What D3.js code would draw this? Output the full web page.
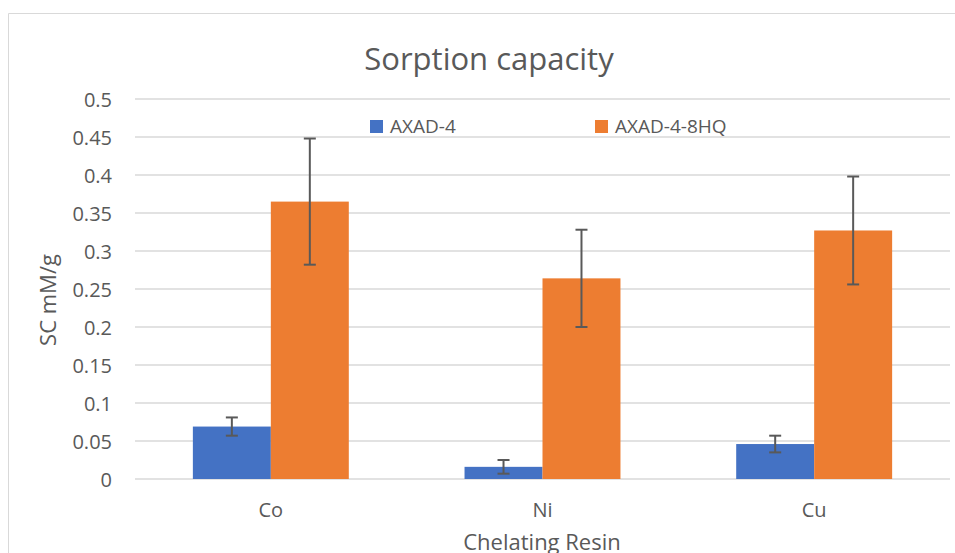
<!DOCTYPE html>
<html><head><meta charset="utf-8">
<script src="https://cdn.jsdelivr.net/npm/d3@7"></script>
<style>body{margin:0;background:#fff}svg{display:block}text{font-family:"Open Sans",sans-serif;fill:#595959}</style>
</head><body><svg id="c" width="955" height="553"></svg>
<script>
const categories = ["Co", "Ni", "Cu"];
const seriesNames = ["AXAD-4", "AXAD-4-8HQ"];
const axad4 = [0.069, 0.016, 0.046];
const axad4Err = [0.012, 0.009, 0.011];
const axad48hq = [0.365, 0.264, 0.327];
const axad48hqErr = [0.083, 0.064, 0.071];
const yTicks = [0, 0.05, 0.1, 0.15, 0.2, 0.25, 0.3, 0.35, 0.4, 0.45, 0.5];
const colors = ["#4472C4", "#ED7D31"];

const svg = d3.select("#c");
const m = {l: 135, r: 950, t: 99, b: 479};
const x = d3.scaleBand().domain(categories).range([m.l, m.r]).paddingInner(0.426).paddingOuter(0.213);
const xs = d3.scaleBand().domain(seriesNames).range([0, x.bandwidth()]);
const y = d3.scaleLinear().domain([0, 0.5]).range([m.b, m.t]);

// border
svg.append("path").attr("d", `M8.5,553 V13.5 H955`).attr("fill", "none").attr("stroke", "#d9d9d9").attr("stroke-width", 1);

// grid
svg.append("g").selectAll("line").data(yTicks).join("line")
  .attr("x1", m.l).attr("x2", m.r).attr("y1", d => y(d)).attr("y2", d => y(d))
  .attr("stroke", "#d9d9d9").attr("stroke-width", 1.5);

// y axis labels
const yAxis = d3.axisLeft(y).tickValues(yTicks).tickSize(0).tickPadding(0).tickFormat(d => String(d));
const ga = svg.append("g").attr("transform", `translate(112,0)`).call(yAxis);
ga.select(".domain").remove();
ga.selectAll("text").attr("font-size", 20).attr("fill", "#595959").style("font-family", '"Open Sans",sans-serif').attr("dy", "0.35em");

// bars
const data = categories.map((c, i) => ({c, vals: [
  {s: seriesNames[0], v: axad4[i], e: axad4Err[i], col: colors[0]},
  {s: seriesNames[1], v: axad48hq[i], e: axad48hqErr[i], col: colors[1]}]}));
const g = svg.append("g").selectAll("g").data(data).join("g").attr("transform", d => `translate(${x(d.c)},0)`);
g.selectAll("rect").data(d => d.vals).join("rect")
  .attr("x", d => xs(d.s)).attr("width", xs.bandwidth())
  .attr("y", d => y(d.v)).attr("height", d => y(0) - y(d.v)).attr("fill", d => d.col);
// error bars
const eb = g.selectAll("g.eb").data(d => d.vals).join("g").attr("class", "eb")
  .attr("stroke", "#595959").attr("stroke-width", 2);
eb.append("line").attr("x1", d => xs(d.s) + xs.bandwidth()/2).attr("x2", d => xs(d.s) + xs.bandwidth()/2)
  .attr("y1", d => y(d.v + d.e)).attr("y2", d => y(d.v - d.e));
eb.append("line").attr("x1", d => xs(d.s) + xs.bandwidth()/2 - 6).attr("x2", d => xs(d.s) + xs.bandwidth()/2 + 6)
  .attr("y1", d => y(d.v + d.e)).attr("y2", d => y(d.v + d.e));
eb.append("line").attr("x1", d => xs(d.s) + xs.bandwidth()/2 - 6).attr("x2", d => xs(d.s) + xs.bandwidth()/2 + 6)
  .attr("y1", d => y(d.v - d.e)).attr("y2", d => y(d.v - d.e));

// x labels
const xAxis = d3.axisBottom(x).tickSize(0).tickPadding(0);
const gx = svg.append("g").attr("transform", `translate(0,517)`).call(xAxis);
gx.select(".domain").remove();
gx.selectAll("text").attr("font-size", 20).attr("fill", "#595959").attr("dy", 0).style("font-family", '"Open Sans",sans-serif');

// titles
svg.append("text").attr("x", 489).attr("y", 70).attr("text-anchor", "middle").attr("font-size", 31).text("Sorption capacity");
svg.append("text").attr("x", 542).attr("y", 550).attr("text-anchor", "middle").attr("font-size", 22).text("Chelating Resin");
svg.append("text").attr("transform", "translate(56,300) rotate(-90)").attr("text-anchor", "middle").attr("font-size", 22).text("SC mM/g");

// legend
const legX = [370, 595];
const lg = svg.append("g").selectAll("g").data(seriesNames).join("g").attr("transform", (d, i) => `translate(${legX[i]},120)`);
lg.append("rect").attr("width", 13).attr("height", 13).attr("fill", (d, i) => colors[i]);
lg.append("text").attr("x", 20).attr("y", 13).attr("font-size", 19).text(d => d);
</script></body></html>
